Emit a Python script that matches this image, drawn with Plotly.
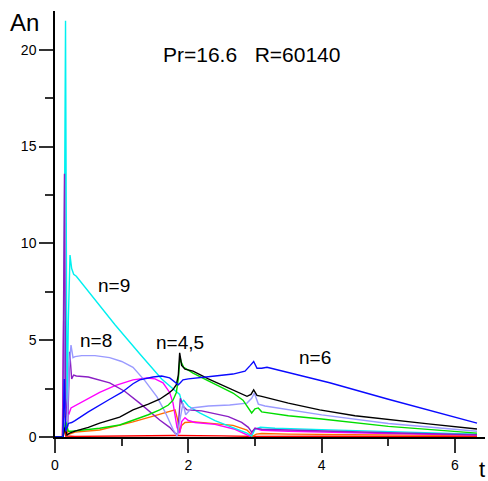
import plotly.graph_objects as go

# ---- data ----
t_cyan = [0, 0.125, 0.158, 0.17, 0.18, 0.2, 0.225, 0.25, 0.28, 0.32, 0.57, 0.9, 1.27, 1.6, 1.8, 1.87, 1.9, 1.93, 2.0, 2.17, 2.4, 2.67, 2.88, 2.95, 3.0, 3.08, 3.3, 4.0, 5.0, 6.33]
A_cyan = [0, 0, 21.5, 4, 1, 6, 9.4, 8.7, 8.4, 8.3, 7.2, 5.8, 4.3, 3.0, 2.4, 2.2, 1.8, 1.9, 1.6, 1.25, 0.85, 0.5, 0.2, 0.05, 0.4, 0.5, 0.45, 0.38, 0.28, 0.15]

t_lav = [0, 0.12, 0.15, 0.18, 0.21, 0.24, 0.27, 0.3, 0.4, 0.6, 0.82, 1.0, 1.17, 1.35, 1.53, 1.65, 1.77, 1.83, 1.88, 1.92, 1.96, 2.05, 2.3, 2.62, 2.88, 2.95, 2.99, 3.05, 3.15, 3.5, 4.0, 5.0, 6.33]
A_lav = [0, 0, 1.0, 0.5, 3.5, 4.75, 4.1, 4.15, 4.2, 4.2, 4.1, 3.9, 3.6, 2.9, 2.07, 1.3, 0.4, 0.05, 1.0, 1.75, 1.15, 1.5, 1.6, 1.65, 1.75, 2.0, 2.27, 1.7, 1.6, 1.4, 1.14, 0.7, 0.3]

t_pur = [0, 0.115, 0.142, 0.16, 0.19, 0.22, 0.25, 0.28, 0.32, 0.5, 0.82, 1.05, 1.27, 1.57, 1.72, 1.8, 1.84, 1.88, 1.92, 1.98, 2.2, 2.6, 2.8, 2.9, 2.95, 3.0, 3.1, 3.5, 4.0, 5.0, 6.33]
A_pur = [0, 0, 13.6, 2, 0.5, 4.4, 3.0, 3.2, 3.15, 3.1, 2.8, 2.35, 1.75, 0.88, 0.5, 0.2, 0.15, 2.0, 1.6, 1.4, 1.35, 1.05, 0.75, 0.5, 0.25, 0.45, 0.4, 0.36, 0.32, 0.22, 0.12]

t_mag = [0, 0.11, 0.13, 0.15, 0.18, 0.21, 0.24, 0.4, 0.67, 0.9, 1.17, 1.38, 1.5, 1.62, 1.72, 1.77, 1.83, 1.87, 1.9, 1.95, 2.0, 2.1, 2.4, 2.7, 2.85, 2.92, 3.0, 3.1, 3.5, 4.0, 5.0, 6.33]
A_mag = [0, 0, 6.0, 2.0, 1.3, 1.2, 1.5, 1.8, 2.3, 2.65, 2.95, 3.05, 3.0, 2.8, 2.3, 1.76, 0.5, 0.2, 0.8, 1.0, 0.85, 0.75, 0.65, 0.4, 0.15, 0.05, 0.45, 0.35, 0.3, 0.25, 0.18, 0.1]

t_org = [0, 0.11, 0.13, 0.145, 0.16, 0.19, 0.22, 0.25, 0.3, 0.67, 1.17, 1.5, 1.68, 1.8, 1.84, 1.87, 1.9, 1.95, 2.1, 2.4, 2.67, 2.88, 2.97, 3.02, 3.1, 3.5, 4.0, 5.0, 6.33]
A_org = [0, 0, 2.2, 0.4, 1.0, 0.2, 0.15, 0.2, 0.25, 0.36, 0.78, 1.1, 1.3, 1.4, 0.9, 0.26, 0.6, 0.75, 0.78, 0.7, 0.6, 0.36, 0.05, 0.15, 0.18, 0.15, 0.13, 0.1, 0.07]

t_blu = [0, 0.12, 0.14, 0.16, 0.2, 0.25, 0.3, 0.5, 0.82, 1.0, 1.17, 1.27, 1.47, 1.6, 1.72, 1.8, 1.85, 1.88, 1.92, 2.0, 2.17, 2.4, 2.67, 2.85, 2.93, 2.98, 3.03, 3.1, 3.18, 4.12, 5.0, 6.33]
A_blu = [0, 0, 3.0, 0.3, 0.7, 0.75, 0.85, 1.3, 1.95, 2.3, 2.75, 2.95, 3.1, 3.15, 3.05, 2.85, 2.7, 2.8, 2.95, 3.0, 3.05, 3.15, 3.25, 3.4, 3.7, 3.9, 3.55, 3.55, 3.6, 2.8, 1.95, 0.72]

t_blk = [0, 0.12, 0.15, 0.18, 0.22, 0.3, 0.5, 0.67, 0.97, 1.17, 1.4, 1.57, 1.7, 1.77, 1.82, 1.85, 1.87, 1.9, 1.95, 2.07, 2.3, 2.67, 2.88, 2.94, 2.98, 3.03, 3.1, 3.5, 3.97, 4.5, 5.12, 5.6, 6.33]
A_blk = [0, 0, 0.5, 0.1, 0.2, 0.3, 0.5, 0.72, 1.03, 1.4, 1.7, 1.95, 2.25, 2.45, 2.7, 3.2, 4.35, 3.7, 3.5, 3.4, 3.0, 2.4, 2.1, 2.2, 2.43, 2.15, 2.1, 1.75, 1.4, 1.1, 0.88, 0.68, 0.41]

t_grn = [0, 0.12, 0.16, 0.2, 0.25, 0.4, 0.67, 0.97, 1.17, 1.4, 1.57, 1.7, 1.77, 1.82, 1.85, 1.875, 1.89, 1.93, 2.0, 2.07, 2.3, 2.67, 2.82, 2.9, 2.95, 3.0, 3.05, 3.1, 3.5, 4.0, 5.0, 6.33]
A_grn = [0, 0, 0.8, 0.3, 0.3, 0.35, 0.45, 0.62, 0.85, 1.15, 1.4, 1.65, 1.9, 2.3, 3.0, 4.15, 3.9, 3.6, 3.45, 3.3, 2.9, 2.27, 1.9, 1.5, 1.24, 1.45, 1.5, 1.3, 1.1, 0.93, 0.55, 0.2]

t_red = [0, 0.12, 0.14, 0.16, 0.3, 1.0, 1.8, 2.5, 3.0, 4.0, 5.0, 6.33]
A_red = [0, 0, 0.8, 0.05, 0.03, 0.05, 0.08, 0.06, 0.03, 0.04, 0.04, 0.03]

x_ticks = [0, 2, 4, 6]
y_ticks = [0, 5, 10, 15, 20]

series = [
    (t_red, A_red, "#FF0000"),
    (t_org, A_org, "#FF6A00"),
    (t_mag, A_mag, "#FF00FF"),
    (t_cyan, A_cyan, "#00F0F0"),
    (t_pur, A_pur, "#8A1FC4"),
    (t_lav, A_lav, "#9A9AFF"),
    (t_grn, A_grn, "#00DD00"),
    (t_blk, A_blk, "#000000"),
    (t_blu, A_blu, "#0A0AFF"),
]

fig = go.Figure()
for tx, ay, col in series:
    fig.add_trace(go.Scatter(x=tx, y=ay, mode="lines",
                             line=dict(color=col, width=1.4),
                             showlegend=False, hoverinfo="skip"))

FONT = "Liberation Sans, Arial, sans-serif"
TICKC = "#333333"
fig.update_layout(
    width=488, height=481,
    margin=dict(l=55, r=3, t=11, b=44),
    paper_bgcolor="white", plot_bgcolor="white",
    font=dict(family=FONT, color="black"),
    xaxis=dict(range=[0, 6.45], tickvals=x_ticks, ticks="outside", ticklen=14,
               tickcolor=TICKC, tickwidth=1.5, showline=True, linecolor="black",
               linewidth=1.5, showgrid=False, zeroline=False,
               tickfont=dict(size=14, family=FONT),
               minor=dict(dtick=1, ticks="outside", ticklen=7, tickcolor=TICKC, tickwidth=1.5)),
    yaxis=dict(range=[0, 22], tickvals=y_ticks, ticks="outside", ticklen=14,
               tickcolor=TICKC, tickwidth=1.5, showline=True, linecolor="black",
               linewidth=1.5, showgrid=False, zeroline=False,
               tickfont=dict(size=14, family=FONT),
               minor=dict(dtick=2.5, ticks="outside", ticklen=8, tickcolor=TICKC, tickwidth=1.5)),
)

anns = [
    dict(text="Pr=16.6   R=60140", x=2.95, y=19.75, xref="x", yref="y", size=21),
    dict(text="n=9", x=0.88, y=7.85, xref="x", yref="y", size=19),
    dict(text="n=8", x=0.62, y=5.0, xref="x", yref="y", size=19),
    dict(text="n=4,5", x=1.87, y=4.9, xref="x", yref="y", size=19),
    dict(text="n=6", x=3.9, y=4.1, xref="x", yref="y", size=19),
    dict(text="An", x=-0.07, y=0.974, xref="paper", yref="paper", size=24),
    dict(text="t", x=0.993, y=-0.077, xref="paper", yref="paper", size=22),
]
for a in anns:
    fig.add_annotation(text=a["text"], x=a["x"], y=a["y"], xref=a["xref"], yref=a["yref"],
                       showarrow=False, xanchor="center", yanchor="middle",
                       font=dict(size=a["size"], family=FONT, color="black"))

fig.write_html("out.html")
